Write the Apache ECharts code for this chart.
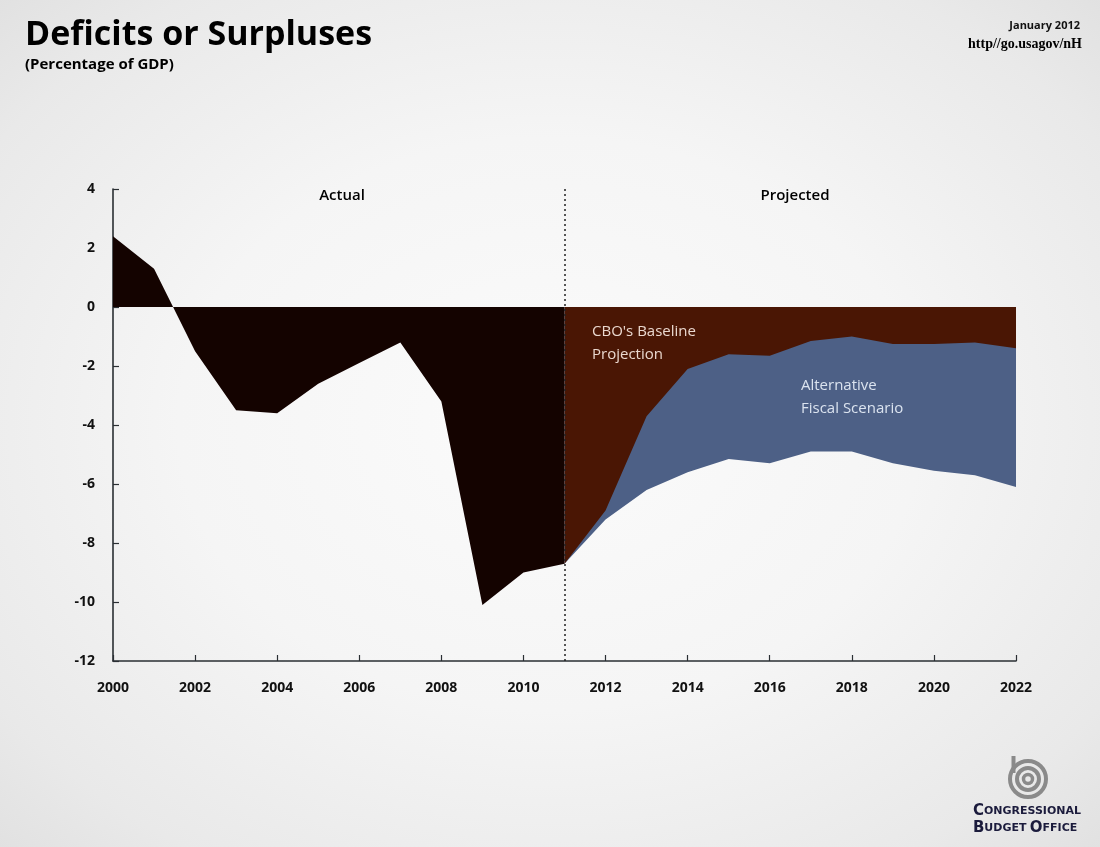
<!DOCTYPE html>
<html>
<head>
<meta charset="utf-8">
<script src="https://cdn.jsdelivr.net/npm/echarts@6/dist/echarts.min.js"></script>
<style>
html,body{margin:0;padding:0;}
#chart{width:1100px;height:847px;background:radial-gradient(ellipse 75% 75% at 50% 50%, #fbfbfb 0%, #f5f5f5 45%, #e9e9e9 80%, #dedede 100%);}
</style>
</head>
<body>
<div id="chart"></div>
<script>
// ---- data ----
const actualYears = [2000,2001,2002,2003,2004,2005,2006,2007,2008,2009,2010,2011];
const actualValues = [2.4,1.3,-1.5,-3.5,-3.6,-2.6,-1.9,-1.2,-3.2,-10.1,-9.0,-8.7];
const projYears = [2011,2012,2013,2014,2015,2016,2017,2018,2019,2020,2021,2022];
const baselineValues = [-8.7,-6.9,-3.7,-2.1,-1.6,-1.65,-1.15,-1.0,-1.25,-1.25,-1.2,-1.4];
const alternativeValues = [-8.7,-7.2,-6.2,-5.6,-5.15,-5.3,-4.9,-4.9,-5.3,-5.55,-5.7,-6.1];
const xTicks = [2000,2002,2004,2006,2008,2010,2012,2014,2016,2018,2020,2022];
const yTicks = [-12,-10,-8,-6,-4,-2,0,2,4];
const splitYear = 2011;

const pair = (xs, ys) => xs.map((x, i) => [x, ys[i]]);

const chart = echarts.init(document.getElementById('chart'), null, {renderer: 'canvas'});

const option = {
  backgroundColor: 'transparent',
  animation: false,
  grid: {left: 113, right: 84, top: 189, bottom: 186},
  xAxis: {
    type: 'value', min: xTicks[0], max: xTicks[xTicks.length - 1], interval: 2,
    axisLine: {onZero: false, lineStyle: {color: '#2a2f33', width: 1.6}},
    axisTick: {inside: true, length: 6, lineStyle: {color: '#2a2f33', width: 1.2}},
    axisLabel: {margin: 20, color: '#111', fontSize: 14, fontWeight: 'bold', fontFamily: '"Open Sans", sans-serif',
      formatter: v => String(v)},
    splitLine: {show: false}
  },
  yAxis: {
    type: 'value', min: yTicks[0], max: yTicks[yTicks.length - 1], interval: 2,
    axisLine: {show: true, lineStyle: {color: '#2a2f33', width: 1.6}},
    axisTick: {show: true, inside: true, length: 6, lineStyle: {color: '#2a2f33', width: 1.2}},
    axisLabel: {margin: 18, color: '#111', fontSize: 14, fontWeight: 'bold', fontFamily: '"Open Sans", sans-serif'},
    splitLine: {show: false}
  },
  series: [
    {
      name: 'Actual', type: 'line', data: pair(actualYears, actualValues),
      showSymbol: false, lineStyle: {width: 0}, itemStyle: {color: '#140300'},
      areaStyle: {color: '#140300', opacity: 1, origin: 0},
      z: 2
    },
    {
      name: 'Alternative Fiscal Scenario', type: 'line', data: pair(projYears, alternativeValues),
      showSymbol: false, lineStyle: {width: 0}, itemStyle: {color: '#4d6086'},
      areaStyle: {color: '#4d6086', opacity: 1, origin: 0},
      z: 3
    },
    {
      name: "CBO's Baseline Projection", type: 'line', data: pair(projYears, baselineValues),
      showSymbol: false, lineStyle: {width: 0}, itemStyle: {color: '#4a1604'},
      areaStyle: {color: '#4a1604', opacity: 1, origin: 0},
      z: 4,
      markLine: {
        silent: true, symbol: 'none', label: {show: false},
        lineStyle: {type: [2, 3], color: '#222', width: 1.5},
        data: [{xAxis: splitYear}],
        z: 10
      }
    }
  ],
  graphic: [
    {type: 'text', left: 25, top: 18, style: {text: 'Deficits or Surpluses', fill: '#000', font: 'bold 34px "Open Sans", sans-serif'}},
    {type: 'text', left: 25, top: 57, style: {text: '(Percentage of GDP)', fill: '#000', font: 'bold 15px "Open Sans", sans-serif'}},
    {type: 'text', right: 20, top: 20, style: {text: 'January 2012', fill: '#111', font: 'bold 11px "Open Sans", sans-serif', textAlign: 'right'}},
    {type: 'text', right: 18, top: 37, style: {text: 'http//go.usagov/nH', fill: '#000', font: 'bold 14px "Liberation Serif", serif', textAlign: 'right'}},
    {type: 'text', x: 342, y: 196, style: {text: 'Actual', fill: '#000', font: '600 15px "Open Sans", sans-serif', textAlign: 'center', textVerticalAlign: 'middle'}},
    {type: 'text', x: 795, y: 196, style: {text: 'Projected', fill: '#000', font: '600 15px "Open Sans", sans-serif', textAlign: 'center', textVerticalAlign: 'middle'}},
    {type: 'text', x: 592, y: 320, z: 20, style: {text: "CBO's Baseline\nProjection", fill: '#ead8cf', font: '15px "Open Sans", sans-serif', lineHeight: 23}},
    {type: 'text', x: 801, y: 374, z: 20, style: {text: 'Alternative\nFiscal Scenario', fill: '#dbe3ef', font: '15px "Open Sans", sans-serif', lineHeight: 23}},
    // CBO logo
    {type: 'group', x: 1028, y: 779, children: [
      {type: 'arc', shape: {cx: 0, cy: 0, r: 18, startAngle: -Math.PI * 0.5, endAngle: Math.PI * 1.88}, style: {stroke: '#8a8a8a', lineWidth: 4, fill: 'none'}},
      {type: 'arc', shape: {cx: 0, cy: 0, r: 11, startAngle: 0, endAngle: Math.PI * 2}, style: {stroke: '#8a8a8a', lineWidth: 4, fill: 'none'}},
      {type: 'arc', shape: {cx: 0, cy: 0, r: 4.5, startAngle: 0, endAngle: Math.PI * 2}, style: {stroke: '#8a8a8a', lineWidth: 3.5, fill: 'none'}},
      {type: 'line', shape: {x1: -14.5, y1: -23, x2: -14.5, y2: -6}, style: {stroke: '#8a8a8a', lineWidth: 4}}
    ]},
    {type: 'text', right: 19, top: 804, style: {
      text: '{a|C}{b|ONGRESSIONAL}\n{a|B}{b|UDGET} {a|O}{b|FFICE}',
      rich: {
        a: {fontSize: 15, fontWeight: 'bold', fill: '#1b1b3c', fontFamily: '"DejaVu Sans", sans-serif', lineHeight: 17},
        b: {fontSize: 11, fontWeight: 'bold', fill: '#1b1b3c', fontFamily: '"DejaVu Sans", sans-serif', lineHeight: 17}
      }
    }}
  ]
};
chart.setOption(option);
</script>
</body>
</html>
